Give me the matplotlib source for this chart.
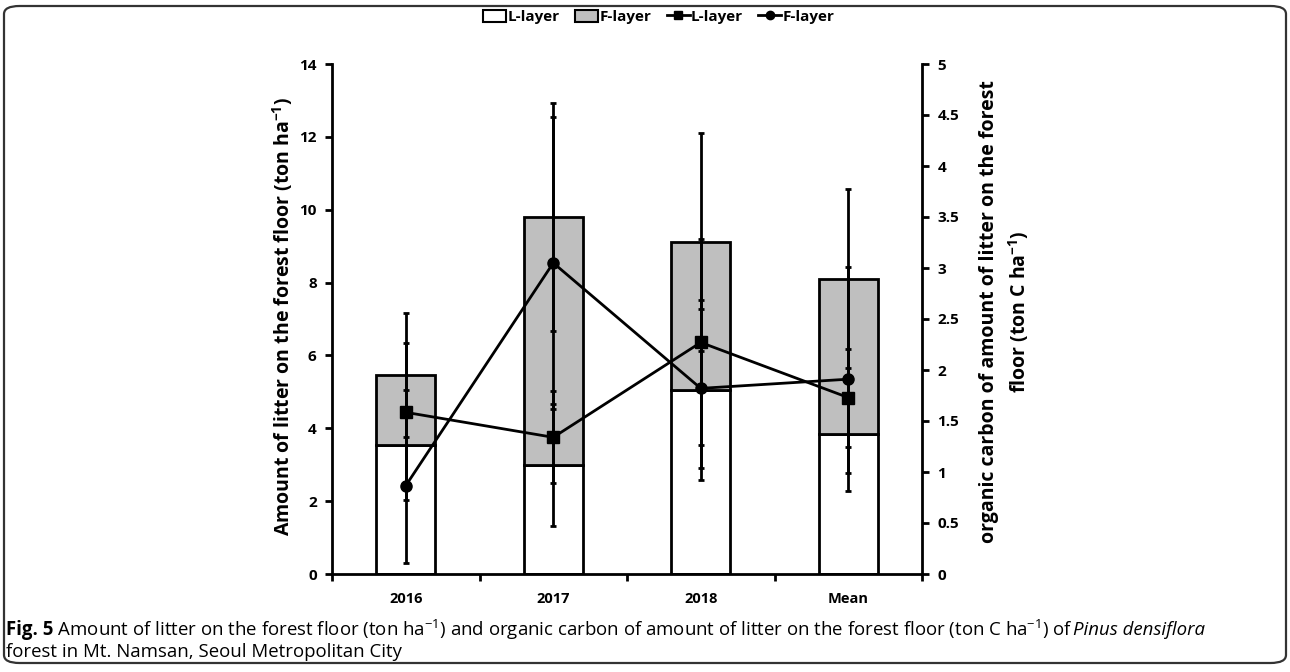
import matplotlib
matplotlib.use('Agg')
import matplotlib.pyplot as plt
import numpy as np
from matplotlib.patches import FancyBboxPatch, Patch
from matplotlib.lines import Line2D

# ---------------- data ----------------
categories = ['2016', '2017', '2018', 'Mean']
litter_L = [3.54, 2.99, 5.05, 3.85]          # ton ha-1 (L-layer bar)
litter_F = [1.93, 6.81, 4.06, 4.26]          # ton ha-1 (F-layer bar, stacked)
litter_L_err = [1.50, 1.68, 2.47, 1.07]
litter_F_err = [1.70, 3.13, 3.00, 2.46]
carbon_L = [1.585, 1.34, 2.27, 1.73]         # ton C ha-1 (L-layer line)
carbon_F = [0.866, 3.05, 1.82, 1.91]         # ton C ha-1 (F-layer line)
carbon_L_err = [0.68, 0.45, 1.01, 0.48]
carbon_F_err = [0.76, 1.43, 0.78, 1.10]
left_ticks = [0, 2, 4, 6, 8, 10, 12, 14]
right_ticks = [0, 0.5, 1, 1.5, 2, 2.5, 3, 3.5, 4, 4.5, 5]

FONT = ['Open Sans', 'DejaVu Sans']
plt.rcParams['font.family'] = FONT
plt.rcParams['mathtext.fontset'] = 'custom'
plt.rcParams['mathtext.rm'] = 'Open Sans'
plt.rcParams['mathtext.bf'] = 'Open Sans:bold'
plt.rcParams['mathtext.it'] = 'Open Sans:italic'
plt.rcParams['mathtext.fallback'] = 'stixsans'

W, H = 1290, 672
fig = plt.figure(figsize=(W / 100, H / 100), dpi=100)

# outer rounded frame
frame = FancyBboxPatch((4 / W, 9 / H), 1282 / W, 657 / H,
                       boxstyle='round,pad=0,rounding_size=0.012',
                       transform=fig.transFigure, fill=False,
                       edgecolor='#333333', linewidth=1.6)
fig.patches.append(frame)

ax_l, ax_r, ax_t, ax_b = 332, 922, 64, 574
ax = fig.add_axes([ax_l / W, 1 - ax_b / H, (ax_r - ax_l) / W, (ax_b - ax_t) / H])
ax2 = ax.twinx()

x = np.arange(len(categories))
bw = 0.40
lw = 2.0
tot = np.array(litter_L) + np.array(litter_F)

ax.bar(x, litter_L, bw, color='white', edgecolor='black', linewidth=lw, zorder=2)
ax.bar(x, litter_F, bw, bottom=litter_L, color='#bfbfbf', edgecolor='black',
       linewidth=lw, zorder=2)
ax.errorbar(x, litter_L, yerr=litter_L_err, fmt='none', ecolor='black',
            elinewidth=2, capsize=2.5, capthick=2, zorder=3)
ax.errorbar(x, tot, yerr=litter_F_err, fmt='none', ecolor='black',
            elinewidth=2, capsize=2.5, capthick=2, zorder=3)

ax2.errorbar(x, carbon_L, yerr=carbon_L_err, fmt='none', ecolor='black',
             elinewidth=2, capsize=2.5, capthick=2, zorder=3)
ax2.errorbar(x, carbon_F, yerr=carbon_F_err, fmt='none', ecolor='black',
             elinewidth=2, capsize=2.5, capthick=2, zorder=3)
ax2.plot(x, carbon_L, color='black', linewidth=2, marker='s', markersize=8, zorder=4)
ax2.plot(x, carbon_F, color='black', linewidth=2, marker='o', markersize=8, zorder=4)

ax.set_xlim(-0.5, len(categories) - 0.5)
ax.set_ylim(0, 14)
ax2.set_ylim(0, 5)
ax.set_yticks(left_ticks)
ax.set_yticklabels([str(t) for t in left_ticks])
ax2.set_yticks(right_ticks)
ax2.set_yticklabels(['{:g}'.format(t) for t in right_ticks])

# x axis: category labels at centers, tick marks at boundaries
ax.set_xticks(x)
ax.set_xticklabels(categories, fontweight='bold', fontsize=10.5)
ax.tick_params(axis='x', which='major', length=0, pad=13)
ax.set_xticks(np.arange(-0.5, len(categories)), minor=True)
ax.tick_params(axis='x', which='minor', length=5, width=2, direction='out')

for a in (ax, ax2):
    a.spines['top'].set_visible(False)
    for s in ('left', 'right', 'bottom'):
        a.spines[s].set_linewidth(2)
ax.spines['right'].set_visible(False)
ax2.spines['left'].set_visible(False)
ax2.spines['bottom'].set_visible(False)

ax.tick_params(axis='y', length=5, width=2, labelsize=11, pad=6)
ax2.tick_params(axis='y', length=5, width=2, labelsize=11, pad=6)
for lab in ax.get_yticklabels() + ax2.get_yticklabels():
    lab.set_fontweight('bold')

# axis titles
fig.text(283 / W, 1 - 316 / H,
         r'Amount of litter on the forest floor (ton ha$^{\mathbf{-1}}$)',
         rotation=90, ha='center', va='center', fontsize=14, fontweight='bold')
fig.text(1005 / W, 1 - 312 / H,
         'organic carbon of amount of litter on the forest\n'
         r'floor (ton C ha$^{\mathbf{-1}}$)',
         rotation=90, ha='center', va='center', fontsize=14, fontweight='bold',
         linespacing=1.45, multialignment='center')

# legend
handles = [
    Patch(facecolor='white', edgecolor='black', linewidth=1.5, label='L-layer'),
    Patch(facecolor='#bfbfbf', edgecolor='black', linewidth=1.5, label='F-layer'),
    Line2D([0], [0], color='black', lw=2, marker='s', markersize=6, label='L-layer'),
    Line2D([0], [0], color='black', lw=2, marker='o', markersize=6, label='F-layer'),
]
fig.legend(handles=handles, loc='center', bbox_to_anchor=(659 / W, 1 - 17 / H),
           ncol=4, frameon=False, prop={'weight': 'bold', 'size': 11},
           handlelength=1.5, handletextpad=0.1, columnspacing=1.0,
           handleheight=0.9)

# caption (mixed styles placed piece by piece)
fig.canvas.draw()
renderer = fig.canvas.get_renderer()
cap_size = 13.4


def place(pieces, x0, y0):
    xp = x0
    for txt, kw in pieces:
        t = fig.text(xp / W, 1 - y0 / H, txt, ha='left', va='center',
                     fontsize=cap_size, **kw)
        bb = t.get_window_extent(renderer=renderer)
        xp += bb.width


line1 = [
    ('Fig. 5', dict(fontweight='bold')),
    (' Amount of litter on the forest floor (ton ha$^{-1}$) and organic carbon of amount of '
     'litter on the forest floor (ton C ha$^{-1}$) of ', {}),
    ('Pinus densiflora', dict(style='italic')),
]
line2 = [('forest in Mt. Namsan, Seoul Metropolitan City', {})]
place(line1, 6, 630)
place(line2, 6, 652)

fig.savefig('out.png', dpi=100)
